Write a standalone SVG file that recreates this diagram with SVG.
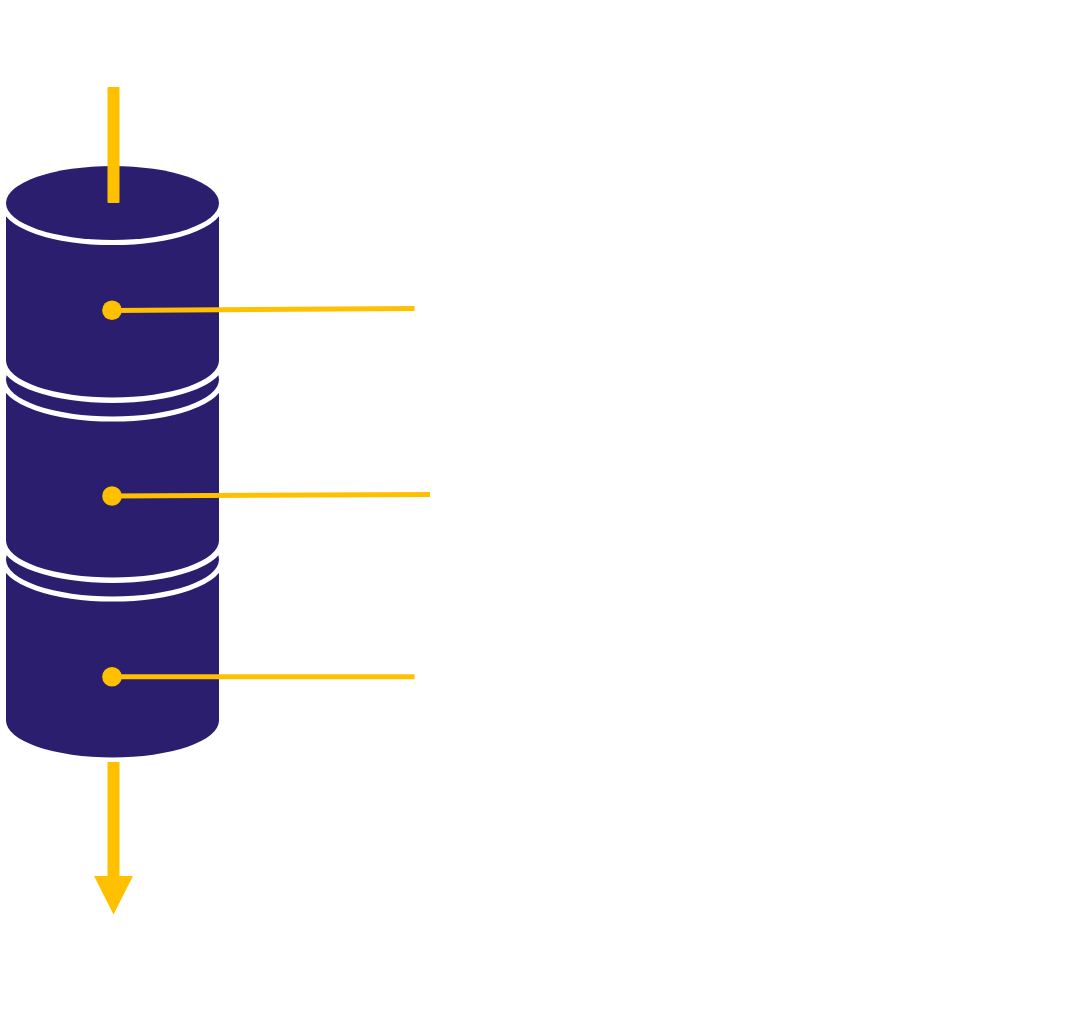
<svg xmlns="http://www.w3.org/2000/svg" width="1086" height="1015" viewBox="0 0 1086 1015">
<style>
.body{fill:#2B1E6F;stroke:#FFFFFF;stroke-width:11;paint-order:stroke}
.cap{fill:#2B1E6F;stroke:#FFFFFF;stroke-width:10;paint-order:stroke}
.lead{stroke:#FFC000;stroke-width:5;fill:none}
.dot{fill:#FFC000}
.arrow{fill:#FFC000}
</style>
<rect width="1086" height="1015" fill="#FFFFFF"/>
<g id="cylinder3">
<path class="body" d="M6,559.5 L6,720.5 A106.5,37 0 0 0 219,720.5 L219,559.5 A106.5,37 0 0 0 6,559.5 Z"/>
<ellipse class="cap" cx="112.5" cy="559.5" rx="106.5" ry="37"/>
</g>
<g id="cylinder2">
<path class="body" d="M6,379.5 L6,540.5 A106.5,37 0 0 0 219,540.5 L219,379.5 A106.5,37 0 0 0 6,379.5 Z"/>
<ellipse class="cap" cx="112.5" cy="379.5" rx="106.5" ry="37"/>
</g>
<g id="cylinder1">
<path class="body" d="M6,203 L6,360.5 A106.5,37 0 0 0 219,360.5 L219,203 A106.5,37 0 0 0 6,203 Z"/>
<ellipse class="cap" cx="112.5" cy="203" rx="106.5" ry="37"/>
</g>
<g id="connectors">
<rect class="arrow" x="107.5" y="87" width="12" height="116" rx="1"/>
<path class="arrow" d="M107.5,762 L119.5,762 L119.5,876 L133,876 L113.5,914.5 L94,876 L107.5,876 Z"/>
<line class="lead" x1="112" y1="310.5" x2="414.5" y2="308.5"/>
<circle class="dot" cx="112" cy="310.3" r="9.8"/>
<line class="lead" x1="112" y1="496" x2="430" y2="494.5"/>
<circle class="dot" cx="112" cy="496" r="9.8"/>
<line class="lead" x1="112" y1="676.8" x2="414.5" y2="676.8"/>
<circle class="dot" cx="112" cy="676.8" r="9.8"/>
</g>
</svg>
